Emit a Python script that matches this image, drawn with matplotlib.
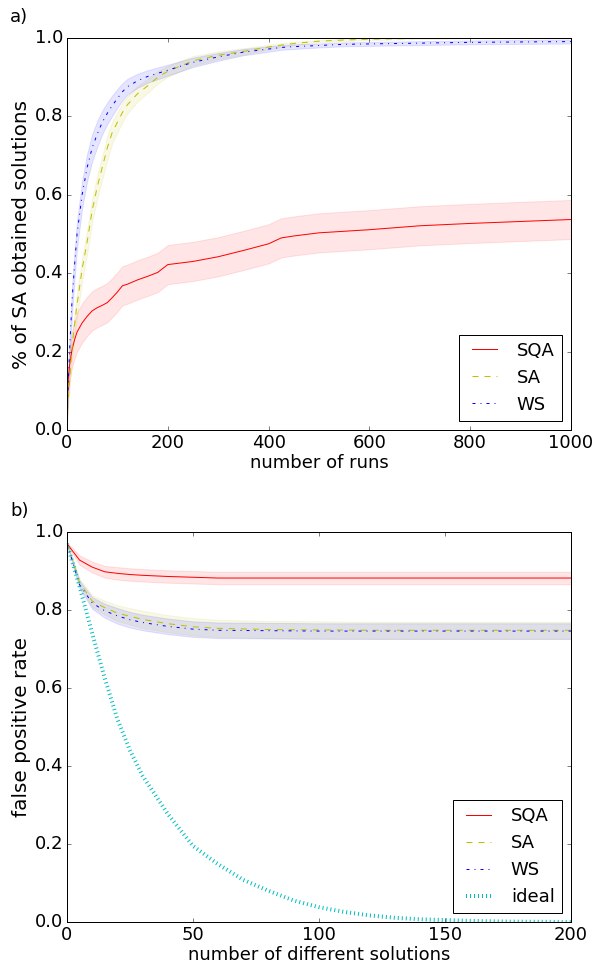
import numpy as np
import matplotlib
matplotlib.use('Agg')
import matplotlib.pyplot as plt

plt.style.use('classic')
plt.rcParams['font.size'] = 18
plt.rcParams['xtick.labelsize'] = 18
plt.rcParams['ytick.labelsize'] = 18
plt.rcParams['axes.labelsize'] = 18
plt.rcParams['legend.fontsize'] = 18

# panel a) : fraction of SA solutions found vs number of runs
runs = [0, 2, 5, 10, 15, 20, 30, 40, 50, 60, 70, 80, 90, 100, 110, 120, 140, 160,
        180, 200, 250, 300, 350, 400, 425, 450, 500, 550, 600, 700, 800, 900, 1000]
sqa_a = [0.02, 0.12, 0.165, 0.205, 0.23, 0.25, 0.273, 0.29, 0.304, 0.312, 0.318, 0.325,
         0.338, 0.352, 0.368, 0.372, 0.383, 0.392, 0.402, 0.422, 0.43, 0.442, 0.458,
         0.475, 0.49, 0.495, 0.503, 0.507, 0.511, 0.521, 0.527, 0.532, 0.537]
sqa_a_err = [0.005, 0.03, 0.04, 0.045, 0.048, 0.05, 0.05, 0.05, 0.05, 0.05, 0.05, 0.05,
             0.05, 0.05, 0.05, 0.05, 0.05, 0.05, 0.05, 0.05, 0.05, 0.05, 0.05, 0.05,
             0.05, 0.05, 0.05, 0.05, 0.05, 0.05, 0.05, 0.05, 0.05]
sa_a = [0.02, 0.07, 0.12, 0.21, 0.27, 0.32, 0.41, 0.48, 0.56, 0.62, 0.67, 0.72, 0.76,
        0.785, 0.81, 0.83, 0.858, 0.878, 0.9, 0.915, 0.942, 0.956, 0.966, 0.977, 0.982,
        0.986, 0.992, 0.995, 0.997, 0.999, 1.0, 1.0, 1.0]
sa_a_err = [0.005, 0.015, 0.02, 0.025, 0.03, 0.03, 0.03, 0.03, 0.03, 0.03, 0.03, 0.03,
            0.028, 0.026, 0.024, 0.022, 0.02, 0.018, 0.016, 0.014, 0.012, 0.01, 0.008,
            0.006, 0.005, 0.004, 0.003, 0.003, 0.002, 0.002, 0.001, 0.001, 0.001]
ws_a = [0.03, 0.1, 0.2, 0.33, 0.42, 0.5, 0.6, 0.67, 0.72, 0.755, 0.785, 0.808, 0.828,
        0.846, 0.863, 0.876, 0.891, 0.902, 0.91, 0.918, 0.938, 0.952, 0.964, 0.972,
        0.976, 0.978, 0.981, 0.984, 0.985, 0.987, 0.989, 0.99, 0.991]
ws_a_err = [0.005, 0.02, 0.03, 0.035, 0.035, 0.035, 0.035, 0.035, 0.035, 0.033, 0.03,
            0.028, 0.026, 0.024, 0.022, 0.02, 0.018, 0.016, 0.015, 0.014, 0.012, 0.01,
            0.008, 0.007, 0.006, 0.006, 0.005, 0.005, 0.005, 0.005, 0.005, 0.005, 0.005]

# panel b) : false positive rate vs number of different solutions
nsol = [0, 5, 10, 15, 20, 25, 30, 40, 50, 60, 80, 100, 125, 150, 175, 200]
sqa_b = [0.97, 0.928, 0.91, 0.898, 0.894, 0.891, 0.889, 0.886, 0.884, 0.882, 0.882,
         0.882, 0.882, 0.882, 0.882, 0.882]
sqa_b_err = [0.003, 0.012, 0.014, 0.015, 0.016, 0.016, 0.016, 0.016, 0.016, 0.016,
             0.016, 0.016, 0.016, 0.016, 0.016, 0.016]
sa_b = [0.97, 0.87, 0.823, 0.806, 0.792, 0.784, 0.776, 0.765, 0.757, 0.753, 0.75,
        0.749, 0.748, 0.748, 0.748, 0.748]
sa_b_err = [0.003, 0.01, 0.015, 0.018, 0.02, 0.021, 0.022, 0.022, 0.022, 0.022, 0.022,
            0.022, 0.022, 0.022, 0.022, 0.022]
ws_b = [0.97, 0.865, 0.818, 0.798, 0.785, 0.775, 0.768, 0.758, 0.751, 0.748, 0.747,
        0.746, 0.746, 0.746, 0.746, 0.746]
ws_b_err = [0.003, 0.01, 0.015, 0.018, 0.02, 0.02, 0.02, 0.02, 0.02, 0.02, 0.02,
            0.02, 0.02, 0.02, 0.02, 0.02]
ideal_x = [0, 5, 10, 15, 20, 25, 30, 40, 50, 60, 70, 80, 90, 100, 110, 120, 130, 140,
           150, 160, 175, 200]
ideal = [0.97, 0.86, 0.74, 0.625, 0.52, 0.44, 0.375, 0.277, 0.195, 0.148, 0.108, 0.08,
         0.055, 0.038, 0.026, 0.017, 0.011, 0.007, 0.005, 0.003, 0.001, 0.0]


def band(ax, x, y, err, color, style, label):
    y = np.array(y)
    err = np.array(err)
    ax.fill_between(x, y - err, y + err, color=color, alpha=0.1)
    line, = ax.plot(x, y, linestyle=style, color=color, label=label)
    return line


fig = plt.figure(figsize=(597 / 72, 968 / 72), dpi=72, facecolor='white')

ax1 = fig.add_axes([0.1122, 0.5558, 0.8442, 0.4049])
h1 = [band(ax1, runs, sqa_a, sqa_a_err, 'r', '-', 'SQA'),
      band(ax1, runs, sa_a, sa_a_err, 'y', '--', 'SA'),
      band(ax1, runs, ws_a, ws_a_err, 'b', '-.', 'WS')]
ax1.set_xlim(0, 1000)
ax1.set_ylim(0, 1.0)
ax1.set_xlabel('number of runs', labelpad=2)
ax1.set_ylabel('% of SA obtained solutions', fontsize=20, labelpad=3)
ax1.legend(handles=h1, loc='lower right')

ax2 = fig.add_axes([0.1122, 0.0475, 0.8442, 0.4029])
h2 = [band(ax2, nsol, sqa_b, sqa_b_err, 'r', '-', 'SQA'),
      band(ax2, nsol, sa_b, sa_b_err, 'y', '--', 'SA'),
      band(ax2, nsol, ws_b, ws_b_err, 'b', '-.', 'WS')]
ideal_line, = ax2.plot(ideal_x, ideal, linestyle=':', color='c', linewidth=4, label='ideal')
h2.append(ideal_line)
ax2.set_xlim(0, 200)
ax2.set_ylim(0, 1.0)
ax2.set_xlabel('number of different solutions', labelpad=2)
ax2.set_ylabel('false positive rate', fontsize=20, labelpad=3)
ax2.legend(handles=h2, loc='lower right')

fig.text(0.017, 0.982, 'a)', fontsize=18, va='center')
fig.text(0.017, 0.472, 'b)', fontsize=18, va='center')

fig.savefig('out.png', dpi=72, facecolor='white')
